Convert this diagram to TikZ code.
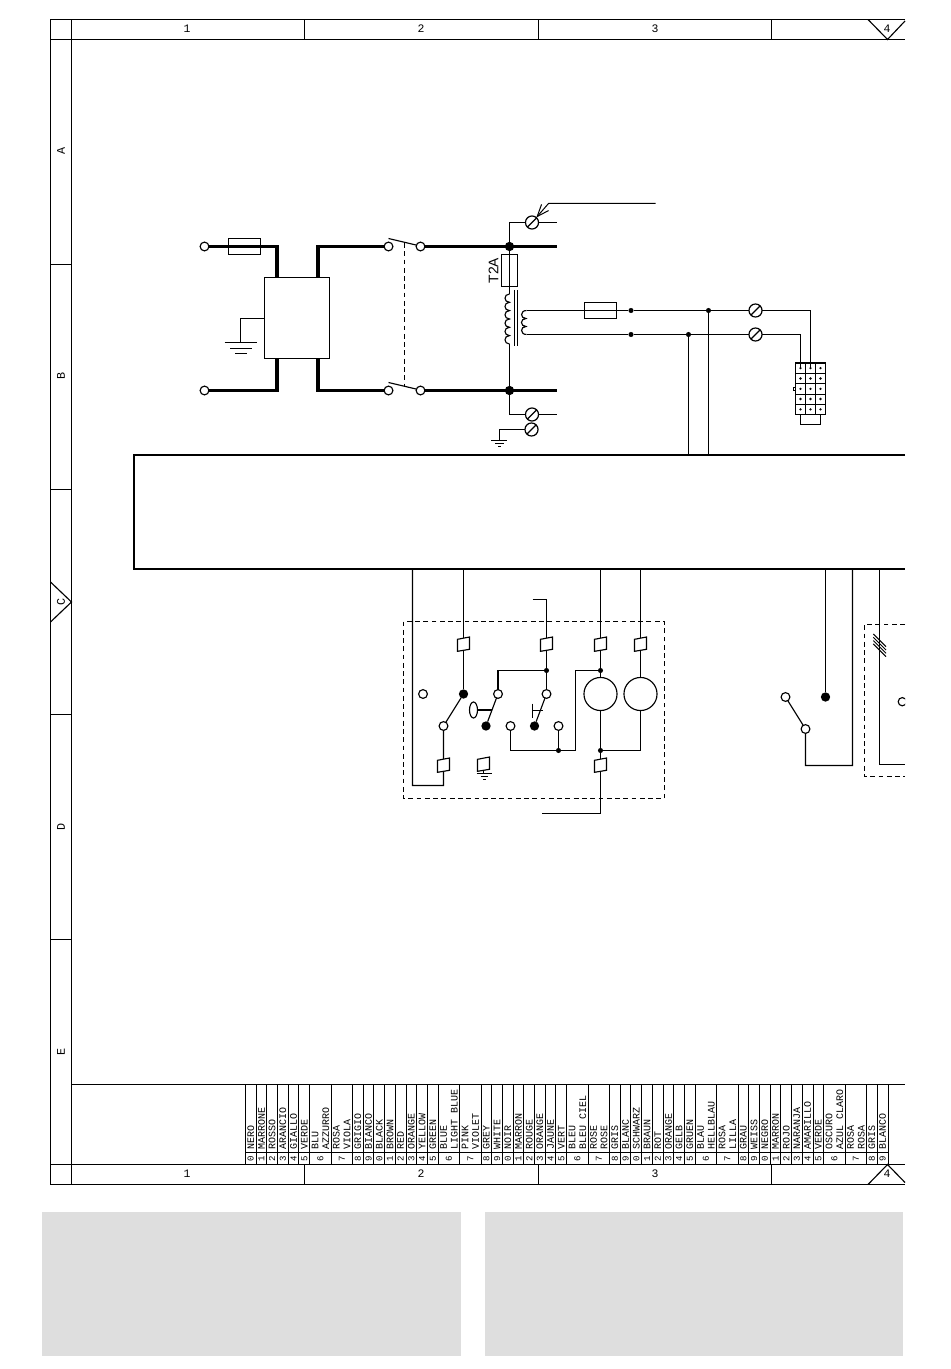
\documentclass[tikz,border=0pt]{standalone}
\usepackage{fontspec}
\setmainfont{Liberation Mono}
\newfontfamily\tagfont{Liberation Sans}
\usetikzlibrary{arrows.meta,shapes.geometric}
\definecolor{panelgrey}{HTML}{DEDEDE}
\tikzset{
  wire/.style={line width=0.85pt,line join=miter},
  heavy/.style={line width=2.7pt,line join=miter},
  fine/.style={line width=0.75pt},
  broken/.style={line width=0.75pt,dash pattern=on 3.6pt off 2.6pt},
  frameline/.style={line width=0.85pt},
  openterm/.style={circle,draw,fill=white,line width=0.85pt,minimum size=6.6pt,inner sep=0pt,outer sep=0pt},
  fullterm/.style={circle,fill=black,minimum size=7pt,inner sep=0pt,outer sep=0pt},
  smalldot/.style={circle,fill=black,minimum size=3.8pt,inner sep=0pt,outer sep=0pt},
  bigdot/.style={circle,fill=black,minimum size=7pt,inner sep=0pt,outer sep=0pt},
  screwterm/.style={circle,draw,line width=0.9pt,minimum size=9.8pt,inner sep=0pt,outer sep=0pt,
    path picture={\draw[line width=1pt] (path picture bounding box.south west) -- (path picture bounding box.north east);}},
  fusebox/.style={draw,line width=0.75pt,inner sep=0pt,outer sep=0pt},
  plugspot/.style={minimum width=9pt,minimum height=9.2pt,inner sep=0pt,outer sep=0pt},
  motorbox/.style={circle,draw,line width=0.85pt,minimum size=24.8pt,inner sep=0pt,outer sep=0pt},
  rulerlabel/.style={font=\fontsize{8.6pt}{9pt}\selectfont,inner sep=0pt},
  sidelabel/.style={font=\fontsize{8.8pt}{9pt}\selectfont,inner sep=0pt,rotate=90},
  legendtext/.style={font=\fontsize{7.5pt}{8pt}\selectfont,inner sep=0pt,rotate=90,anchor=west},
  legenddigit/.style={font=\fontsize{6.8pt}{7pt}\selectfont,inner sep=0pt,rotate=90},
}
\newcommand{\plugshape}[1]{\draw[wire,fill=white] ([shift={(-6,-4.7)}]#1.center) -- ([shift={(6,-7)}]#1.center) -- ([shift={(6,5.3)}]#1.center) -- ([shift={(-6,7.3)}]#1.center) -- cycle;}
\begin{document}
\begin{tikzpicture}[x=0.75pt,y=-0.75pt]
\useasboundingbox (0,0) rectangle (950,1369);
\fill[white] (0,0) rectangle (950,1369);
% lower grey panels
\fill[panelgrey] (42,1212) rectangle (461,1356);
\fill[panelgrey] (485,1212) rectangle (903,1356);

% drawing frame
\draw[frameline] (905,19.5) -- (50.5,19.5) -- (50.5,1184.5) -- (905,1184.5);
\draw[frameline] (71.5,19.5) -- (71.5,1184.5);
\draw[frameline] (50.5,39.5) -- (905,39.5);
\draw[frameline] (50.5,1164.5) -- (905,1164.5);
\draw[frameline] (71.5,1084.5) -- (905,1084.5);
\foreach \xx in {304.5,538.5,771.5} {
  \draw[frameline] (\xx,19.5) -- (\xx,39.5);
  \draw[frameline] (\xx,1164.5) -- (\xx,1184.5);
}
\foreach \yy in {264.5,489.5,714.5,939.5} \draw[frameline] (50.5,\yy) -- (71.5,\yy);
\draw[frameline] (50.5,582) -- (71.5,602) -- (50.5,622);
\draw[frameline] (868,19.5) -- (887.5,39.5) -- (905,21);
\draw[frameline] (868,1184.5) -- (887.5,1164.5) -- (905,1182.5);
\foreach \t/\xx in {1/187,2/421,3/655,4/887} {
  \node[rulerlabel] (top\t) at (\xx,29) {\t};
  \node[rulerlabel] (bot\t) at (\xx,1174) {\t};
}
\foreach \t/\yy in {A/151,B/376,C/602,D/827,E/1052}
  \node[sidelabel] (side\t) at (61,\yy) {\t};

% colour legend
\draw[fine] (245.4,1152.5) -- (888,1152.5);
\foreach \u in {0,1,2,3,4,5,6,8,10,11,12,13,14,15,16,17,18,20,22,23,24,25,26,27,28,29,30,32,34,35,36,37,38,39,40,41,42,44,46,47,48,49,50,51,52,53,54,56,58,59,60} {
  \pgfmathsetmacro{\cx}{245.4+10.71*\u}
  \draw[fine] (\cx,1084.5) -- (\cx,1164.5);
}
\foreach \u/\g/\a in {0/0/NERO,1/1/MARRONE,2/2/ROSSO,3/3/ARANCIO,4/4/GIALLO,5/5/VERDE,10/8/GRIGIO,11/9/BIANCO,
  12/0/BLACK,13/1/BROWN,14/2/RED,15/3/ORANGE,16/4/YELLOW,17/5/GREEN,22/8/GREY,23/9/WHITE,
  24/0/NOIR,25/1/MARRON,26/2/ROUGE,27/3/ORANGE,28/4/JAUNE,29/5/VERT,34/8/GRIS,35/9/BLANC,
  36/0/SCHWARZ,37/1/BRAUN,38/2/ROT,39/3/ORANGE,40/4/GELB,41/5/GRUEN,46/8/GRAU,47/9/WEISS,
  48/0/NEGRO,49/1/MARRON,50/2/ROJO,51/3/NARANJA,52/4/AMARILLO,53/5/VERDE,58/8/GRIS,59/9/BLANCO} {
  \pgfmathsetmacro{\cx}{245.4+10.71*(\u+0.5)}
  \node[legendtext] (leg\u) at (\cx,1149.5) {\a};
  \node[legenddigit] (dig\u) at (\cx,1158.5) {\g};
}
\foreach \u/\g/\a/\b in {6/6/BLU/AZZURRO,8/7/ROSA/VIOLA,18/6/BLUE/LIGHT BLUE,20/7/PINK/VIOLET,
  30/6/BLEU/BLEU CIEL,32/7/ROSE/ROSE,42/6/BLAU/HELLBLAU,44/7/ROSA/LILLA,54/6/OSCURO/AZUL CLARO,56/7/ROSA/ROSA} {
  \pgfmathsetmacro{\cx}{245.4+10.71*(\u+0.5)}
  \pgfmathsetmacro{\dx}{245.4+10.71*(\u+1.5)}
  \pgfmathsetmacro{\mx}{245.4+10.71*(\u+1)}
  \node[legendtext] (lega\u) at (\cx,1149.5) {\a};
  \node[legendtext] (legb\u) at (\dx,1149.5) {\b};
  \node[legenddigit] (dig\u) at (\mx,1158.5) {\g};
}

% ===== power section =====
\node[openterm] (inT) at (204.5,246.5) {};
\node[openterm] (inB) at (204.5,390.5) {};
\node[fusebox,minimum width=24pt,minimum height=12.4pt] (f1) at (244.5,246.3) {};
\node[draw,fill=white,line width=0.85pt,minimum width=48.9pt,minimum height=60.4pt,inner sep=0pt,outer sep=0pt] (filter) at (296.8,318.2) {};
\coordinate (ilT) at (277,278);
\coordinate (ilB) at (277,358.5);
\coordinate (olT) at (318,278);
\coordinate (olB) at (318,358.5);
\node[openterm] (sw1a) at (388.5,246.5) {};
\node[openterm] (sw1b) at (420.5,246.5) {};
\node[openterm] (sw2a) at (388.5,390.5) {};
\node[openterm] (sw2b) at (420.5,390.5) {};
\coordinate (busT) at (556.5,246.5);
\coordinate (busB) at (556.5,390.5);
\node[bigdot] (jT) at (509.5,246.5) {};
\node[bigdot] (jB) at (509.5,390.5) {};
\draw[heavy] (inT) -| (ilT);
\draw[heavy] (inB) -| (ilB);
\draw[heavy] (sw1a) -| (olT);
\draw[heavy] (sw2a) -| (olB);
\draw[heavy] (sw1b) -- (busT);
\draw[heavy] (sw2b) -- (busB);
% switch blades with linked actuator
\coordinate (bl1) at (388.5,238.5);
\coordinate (bl1e) at (416,245);
\coordinate (bl2) at (388.5,382.5);
\coordinate (bl2e) at (416,389);
\draw[wire] (bl1) -- (bl1e);
\draw[wire] (bl2) -- (bl2e);
\coordinate (lnk1) at (404.5,243);
\coordinate (lnk2) at (404.5,386);
\draw[broken] (lnk1) -- (lnk2);
% filter earth
\coordinate (fe1) at (240.5,318.5);
\coordinate (fe2) at (240.5,342.5);
\draw[wire] (filter.west |- fe1) -- (fe1) -- (fe2);
\draw[wire] (224.5,342.5) -- (257,342.5) (230,348.5) -- (252,348.5) (235,353.5) -- (247,353.5);

% transformer feed
\node[fusebox,minimum width=12pt,minimum height=24pt] (f2) at (509.5,270.5) {};
\node[font=\tagfont\fontsize{10.4pt}{11pt}\selectfont,rotate=90,inner sep=0pt] (t2a) at (493.5,270.5) {T2A};
\coordinate (pTop) at (509.5,294);
\coordinate (pBot) at (509.5,344);
\draw[wire] (jT) -- (pTop);
\draw[wire] (pBot) -- (jB);
\draw[wire] (pTop)
  .. controls (503.5,294) and (503.5,302.3) .. (509.5,302.3)
  .. controls (503.5,302.3) and (503.5,310.6) .. (509.5,310.6)
  .. controls (503.5,310.6) and (503.5,319) .. (509.5,319)
  .. controls (503.5,319) and (503.5,327.3) .. (509.5,327.3)
  .. controls (503.5,327.3) and (503.5,335.6) .. (509.5,335.6)
  .. controls (503.5,335.6) and (503.5,344) .. (pBot);
\draw[fine] (514.5,290) -- (514.5,346) (517,290) -- (517,346);
\coordinate (sTop) at (526.5,310.5);
\coordinate (sBot) at (526.5,334.5);
\draw[wire] (sTop)
  .. controls (520,310.5) and (520,318.5) .. (526,318.5)
  .. controls (520,318.5) and (520,326.5) .. (526,326.5)
  .. controls (520,326.5) and (520,334.5) .. (sBot);
\node[fusebox,minimum width=24pt,minimum height=12pt] (f3) at (600.5,310.5) {};
\node[smalldot] (d1) at (631,310.5) {};
\node[smalldot] (d2) at (631,334.5) {};
\node[smalldot] (d3) at (708.5,310.5) {};
\node[smalldot] (d4) at (688.5,334.5) {};
\node[screwterm] (sc1) at (755.5,310.5) {};
\node[screwterm] (sc2) at (755.5,334.5) {};
\coordinate (cn1) at (810.5,369);
\coordinate (cn2) at (800.5,369);
\draw[wire] (sTop) -- (d1) -- (d3) -- (sc1) -| (cn1);
\draw[wire] (sBot) -- (d2) -- (d4) -- (sc2) -| (cn2);
\coordinate (bus3) at (708.5,455);
\coordinate (bus4) at (688.5,455);
\draw[wire] (d3) -- (bus3);
\draw[wire] (d4) -- (bus4);

% 3 x 5 connector block
\draw[wire] (795.5,363) rectangle (825.5,414.5);
\foreach \cxx in {805.5,815.5} \draw[fine] (\cxx,363) -- (\cxx,414.5);
\foreach \ryy in {373.5,383.5,394.5,404.5} \draw[fine] (795.5,\ryy) -- (825.5,\ryy);
\draw[line width=1.5pt] (795.5,363) -- (825.5,363);
\foreach \cxx in {800.5,810.5,820.5} \foreach \ryy in {368.2,378.5,388.8,399,409.3}
  \fill (\cxx,\ryy) circle (0.95pt);
\draw[fine] (795.5,387.5) -- (793,387.5) -- (793,390.5) -- (795.5,390.5);
\draw[wire] (800.5,414.5) -- (800.5,424.5) -- (820.5,424.5) -- (820.5,414.5);

% earth / protective terminals
\node[screwterm] (sc3) at (532,222.5) {};
\node[screwterm] (sc4) at (532,414.5) {};
\node[screwterm] (sc5) at (531.5,429.5) {};
\coordinate (e3) at (556.5,222.5);
\coordinate (e4) at (556.5,414.5);
\draw[wire] (jT) |- (sc3) -- (e3);
\draw[wire] (jB) |- (sc4) -- (e4);
\coordinate (ge) at (499.5,440.5);
\draw[wire] (sc5) -| (ge);
\draw[wire] (491,440.5) -- (507,440.5);
\draw[fine] (495,443.5) -- (503.5,443.5) (498,446.5) -- (500.5,446.5);
\coordinate (ld1) at (655.5,203.5);
\coordinate (ld2) at (548.5,203.5);
\draw[fine,-{Straight Barb[length=9pt,width=7pt]}] (ld1) -- (ld2) -- (sc3);

% main module
\draw[line width=1.5pt] (905,455) -- (134,455) -- (134,569) -- (905,569);

% ===== door / thermostat section =====
\draw[broken] (403.5,621.5) rectangle (664.5,798.5);
\node[plugspot] (p1) at (463.5,644) {};
\node[plugspot] (p2) at (546.5,644) {};
\node[plugspot] (p3) at (600.5,644) {};
\node[plugspot] (p4) at (640.5,644) {};
\node[plugspot] (p5) at (443.5,765) {};
\node[plugspot] (p6) at (483.5,764) {};
\node[plugspot] (p7) at (600.5,765) {};
\node[openterm] (o0) at (423,694) {};
\node[fullterm] (c1) at (463.5,694) {};
\node[openterm] (o1) at (443.5,726) {};
\node[openterm] (o2) at (498,694) {};
\node[fullterm] (c2) at (486,726) {};
\node[openterm] (o3) at (510.5,726) {};
\node[openterm] (o4) at (546.5,694) {};
\node[fullterm] (c3) at (534.5,726) {};
\node[openterm] (o5) at (558.5,726) {};
\node[motorbox] (m1) at (600.5,694) {};
\node[motorbox] (m2) at (640.5,694) {};
\node[smalldot] (n1) at (546.5,670.5) {};
\node[smalldot] (n2) at (600.5,670.5) {};
\node[smalldot] (n3) at (600.5,750.5) {};
\node[smalldot] (n4) at (558.5,750.5) {};
\coordinate (b1) at (463.5,569);
\coordinate (b2) at (600.5,569);
\coordinate (b3) at (640.5,569);
\coordinate (b0) at (412.5,569);
\coordinate (tail) at (412.5,785.5);
\coordinate (cr) at (443.5,785.5);
\coordinate (st1) at (532.5,599.5);
\coordinate (st2) at (546.5,599.5);
\coordinate (st3) at (541.5,813.5);
\coordinate (st4) at (600.5,813.5);
\coordinate (rt1) at (575.5,670.5);
\coordinate (rt2) at (575.5,750.5);
\coordinate (rt3) at (510.5,750.5);
\draw[wire] (b1) -- (p1) -- (c1);
\draw[wire] (c1) -- (o1) -- (p5) -- (cr) -- (tail) -- (b0);
\draw[wire] (st1) -- (st2) -- (p2) -- (n1) -- (o4);
\draw[wire] (n1) -| (o2);
\draw[wire] (o2) -- (c2);
\draw[wire] (o4) -- (c3);
\draw[wire] (b2) -- (p3) -- (n2) -- (m1) -- (n3) -- (p7) -- (st4) -- (st3);
\draw[wire] (b3) -- (p4) -- (m2);
\draw[wire] (m2) |- (n3);
\draw[wire] (n2) -- (rt1) -- (rt2) -- (n4) -- (rt3) -- (o3);
\draw[wire] (n4) -- (o5);
\plugshape{p1}\plugshape{p2}\plugshape{p3}\plugshape{p4}\plugshape{p5}\plugshape{p6}\plugshape{p7}
% door actuator
\node[draw,ellipse,line width=0.85pt,minimum width=6pt,minimum height=12pt,inner sep=0pt,outer sep=0pt] (act) at (473.5,710) {};
\coordinate (acte) at (492,710);
\draw[line width=1.5pt] (act) -- (acte);
% push-button mark
\coordinate (pb1) at (532.5,703.5);
\coordinate (pb2) at (532.5,717.5);
\coordinate (pb3) at (532.5,710.5);
\coordinate (pb4) at (542.7,710.5);
\draw[wire] (pb1) -- (pb2) (pb3) -- (pb4);
% chassis earth
\draw[wire] (476.5,773.5) -- (492.3,773.5);
\draw[fine] (480.5,776.5) -- (488.3,776.5) (482.8,779.5) -- (486,779.5);
\coordinate (pe1) at (483.5,771);
\coordinate (pe2) at (483.5,773.5);
\draw[fine] (pe1) -- (pe2);

% ===== right section =====
\node[fullterm] (c4) at (825.5,697) {};
\node[openterm] (o6) at (785.5,697) {};
\node[openterm] (o7) at (805.5,729) {};
\coordinate (b4) at (825.5,569);
\coordinate (b5) at (852.5,569);
\coordinate (c5) at (852.5,765.5);
\coordinate (c6) at (805.5,765.5);
\coordinate (b6) at (879.5,569);
\coordinate (c7) at (879.5,764.5);
\coordinate (c8) at (905,764.5);
\draw[wire] (b4) -- (c4);
\draw[wire] (o6) -- (o7) -- (c6) -- (c5) -- (b5);
\draw[wire] (b6) -- (c7) -- (c8);
\draw[broken] (905,624.5) -- (864.5,624.5) -- (864.5,776.5) -- (905,776.5);
\foreach \hy in {634,637.3,640.6,643.9} \draw[fine] (873.3,\hy) -- ++(12.7,12.7);
\begin{scope}
  \clip (890,690) rectangle (905,712);
  \draw[wire] (902.3,701.7) circle (3.1pt);
\end{scope}
\end{tikzpicture}
\end{document}
